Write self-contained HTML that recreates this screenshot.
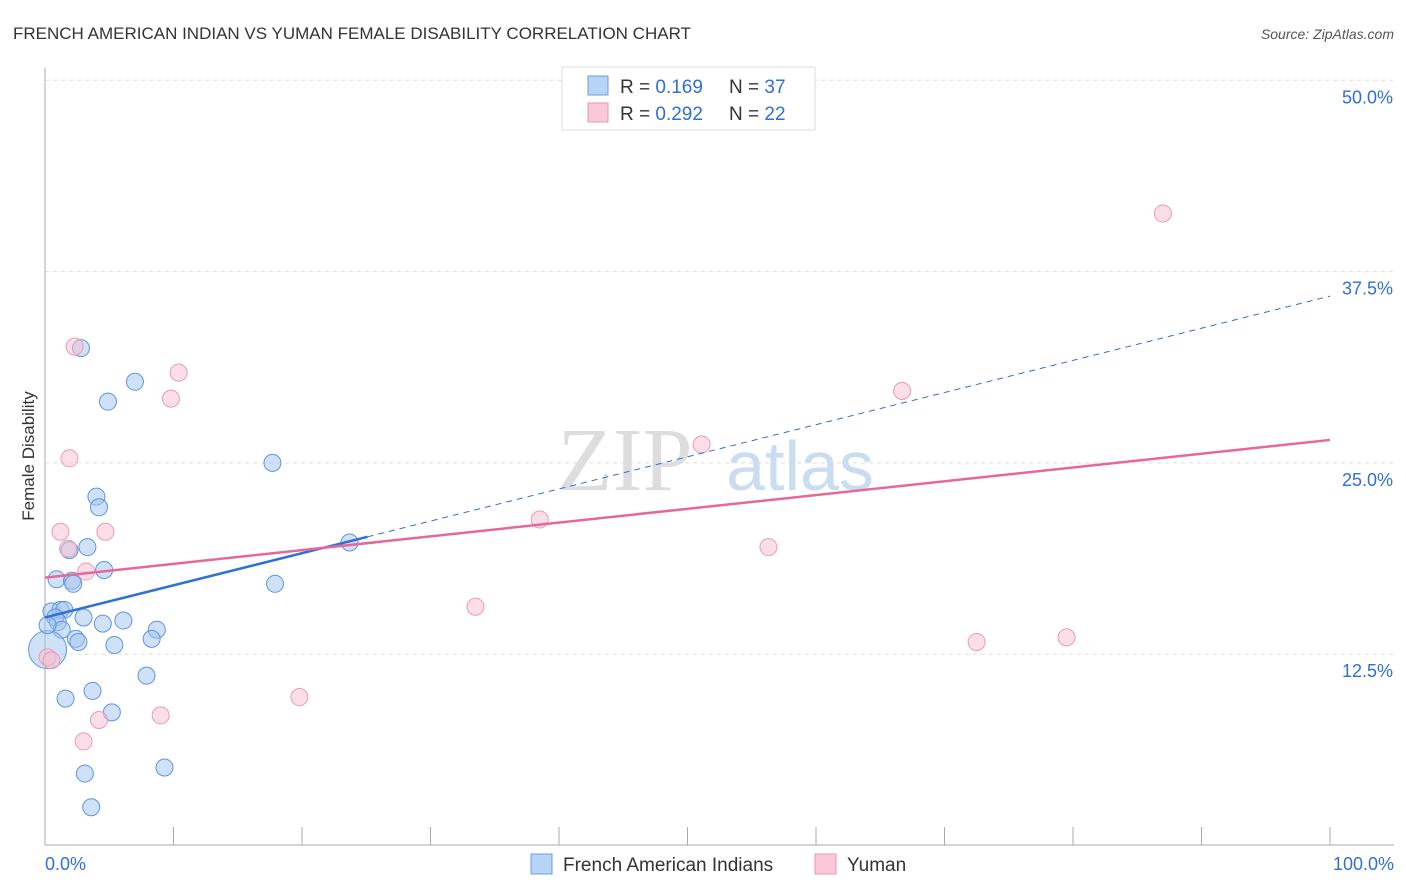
<!DOCTYPE html>
<html><head><meta charset="utf-8"><style>
body{margin:0;background:#fff;font-family:"Liberation Sans",sans-serif;}
svg{display:block}
</style></head><body>
<svg id="c" width="1406" height="892">
<text x="13" y="39" font-size="17" fill="#333">FRENCH AMERICAN INDIAN VS YUMAN FEMALE DISABILITY CORRELATION CHART</text>
<text x="1394" y="39" font-size="14" fill="#555" font-style="italic" text-anchor="end">Source: ZipAtlas.com</text>
<text x="34" y="456" font-size="17" fill="#333" text-anchor="middle" transform="rotate(-90 34 456)">Female Disability</text>
<g><text x="625" y="490" font-size="90" fill="#ddd" font-family="Liberation Serif,serif" text-anchor="middle">ZIP</text><text x="800" y="490" font-size="70" fill="#c9dcf0" text-anchor="middle">atlas</text></g>
<g id="grid"></g><g id="marks"></g>
<g>
<rect x="562" y="67" width="253" height="63" fill="#fff" stroke="#ddd"/>
<rect x="588" y="76" width="20" height="19" fill="#b7d3f5" stroke="#6a9de0"/>
<rect x="588" y="103" width="20" height="19" fill="#f9c9d8" stroke="#e993b0"/>
<text x="620" y="93" font-size="19" fill="#333">R = <tspan fill="#2f6fd6">0.169</tspan><tspan x="729">N = </tspan><tspan fill="#2f6fd6">37</tspan></text>
<text x="620" y="120" font-size="19" fill="#333">R = <tspan fill="#2f6fd6">0.292</tspan><tspan x="729">N = </tspan><tspan fill="#2f6fd6">22</tspan></text>
</g>
<g>
<rect x="531" y="854" width="21" height="20" fill="#b7d3f5" stroke="#6a9de0"/>
<text x="563" y="871" font-size="19" fill="#333">French American Indians</text>
<rect x="815" y="854" width="21" height="20" fill="#f9c9d8" stroke="#e993b0"/>
<text x="847" y="871" font-size="19" fill="#333">Yuman</text>
</g>
</svg>
<script>
const blueX=[2.8,7.0,4.9,17.7,4.0,4.2,1.9,3.3,4.6,0.9,2.1,2.2,23.7,17.9,0.5,1.2,1.5,0.8,1.0,3.0,1.3,6.1,4.5,2.4,2.6,8.7,8.3,5.4,0.2,7.9,3.7,1.6,5.2,3.1,9.3,3.6,0.2];
const blueY=[32.5,30.3,29.0,25.0,22.8,22.1,19.3,19.5,18.0,17.4,17.3,17.1,19.8,17.1,15.3,15.4,15.4,14.9,14.6,14.9,14.1,14.7,14.5,13.5,13.3,14.1,13.5,13.1,12.8,11.1,10.1,9.6,8.7,4.7,5.1,2.5,14.4];
const pinkX=[2.3,10.4,9.8,1.9,1.2,4.7,1.8,3.2,0.2,0.5,4.2,9.0,3.0,19.8,33.5,38.5,51.1,56.3,66.7,72.5,79.5,87.0];
const pinkY=[32.6,30.9,29.2,25.3,20.5,20.5,19.4,17.9,12.3,12.1,8.2,8.5,6.8,9.7,15.6,21.3,26.2,19.5,29.7,13.3,13.6,41.3];
const yTicks=[12.5,25,37.5,50];
const yTickLabels=["12.5%","25.0%","37.5%","50.0%"];
const xTicks=[0,10,20,30,40,50,60,70,80,90,100];
const blueTrend=[14.9,35.9];
const pinkTrend=[17.5,26.5];
const blueSolidEnd=25.1;
const X=v=>45+v*12.85, Y=v=>845.5-v*15.304;
const NS="http://www.w3.org/2000/svg";
function mk(t,a,p){const e=document.createElementNS(NS,t);for(const k in a)e.setAttribute(k,a[k]);p.appendChild(e);return e;}
const g=document.getElementById('grid'), m=document.getElementById('marks');
let ax=mk('line',{x1:45,y1:68,x2:45,y2:845,stroke:'#aaa'},g);


let bx=mk('line',{x1:45,y1:845,x2:1394,y2:845,stroke:'#aaa'},g);


yTicks.forEach((t,i)=>{
 let l=mk('line',{x1:45,x2:1394,y1:Y(t),y2:Y(t),stroke:'#ddd','stroke-dasharray':'4,4'},g);
 
 
 let tx=mk('text',{x:1393,y:Y(t)+23,'font-size':18,fill:'#2f6fd6','text-anchor':'end'},g);
 tx.textContent=yTickLabels[i];
 
 
});
xTicks.forEach(t=>{let l=mk('line',{x1:X(t),x2:X(t),y1:827,y2:845,stroke:'#aaa'},g);
 
 });
let x0=mk('text',{x:45,y:870,'font-size':18,fill:'#2f6fd6'},g);x0.textContent='0.0%';


let x1=mk('text',{x:1394,y:870,'font-size':18,fill:'#2f6fd6','text-anchor':'end'},g);x1.textContent='100.0%';


blueX.forEach((v,i)=>{let c=mk('circle',{cx:X(v),cy:Y(blueY[i]),r:i==28?19:8.5,fill:'rgba(160,196,240,0.5)',stroke:'#5d95dd','stroke-width':1},m);
 
 });
pinkX.forEach((v,i)=>{let c=mk('circle',{cx:X(v),cy:Y(pinkY[i]),r:8.5,fill:'rgba(248,190,208,0.5)',stroke:'#ea9ab5','stroke-width':1},m);
 
 });
const bf=x=>blueTrend[0]+(blueTrend[1]-blueTrend[0])*x/100;
let bd=mk('line',{x1:X(blueSolidEnd),y1:Y(bf(blueSolidEnd)),x2:X(100),y2:Y(bf(100)),stroke:'#2f6fd6','stroke-width':1,'stroke-dasharray':'6,5'},m);


let bs=mk('line',{x1:X(0),y1:Y(bf(0)),x2:X(blueSolidEnd),y2:Y(bf(blueSolidEnd)),stroke:'#2f6fd6','stroke-width':2.5},m);


let ps=mk('line',{x1:X(0),y1:Y(pinkTrend[0]),x2:X(100),y2:Y(pinkTrend[1]),stroke:'#e6689a','stroke-width':2.5},m);


</script>
</body></html>
